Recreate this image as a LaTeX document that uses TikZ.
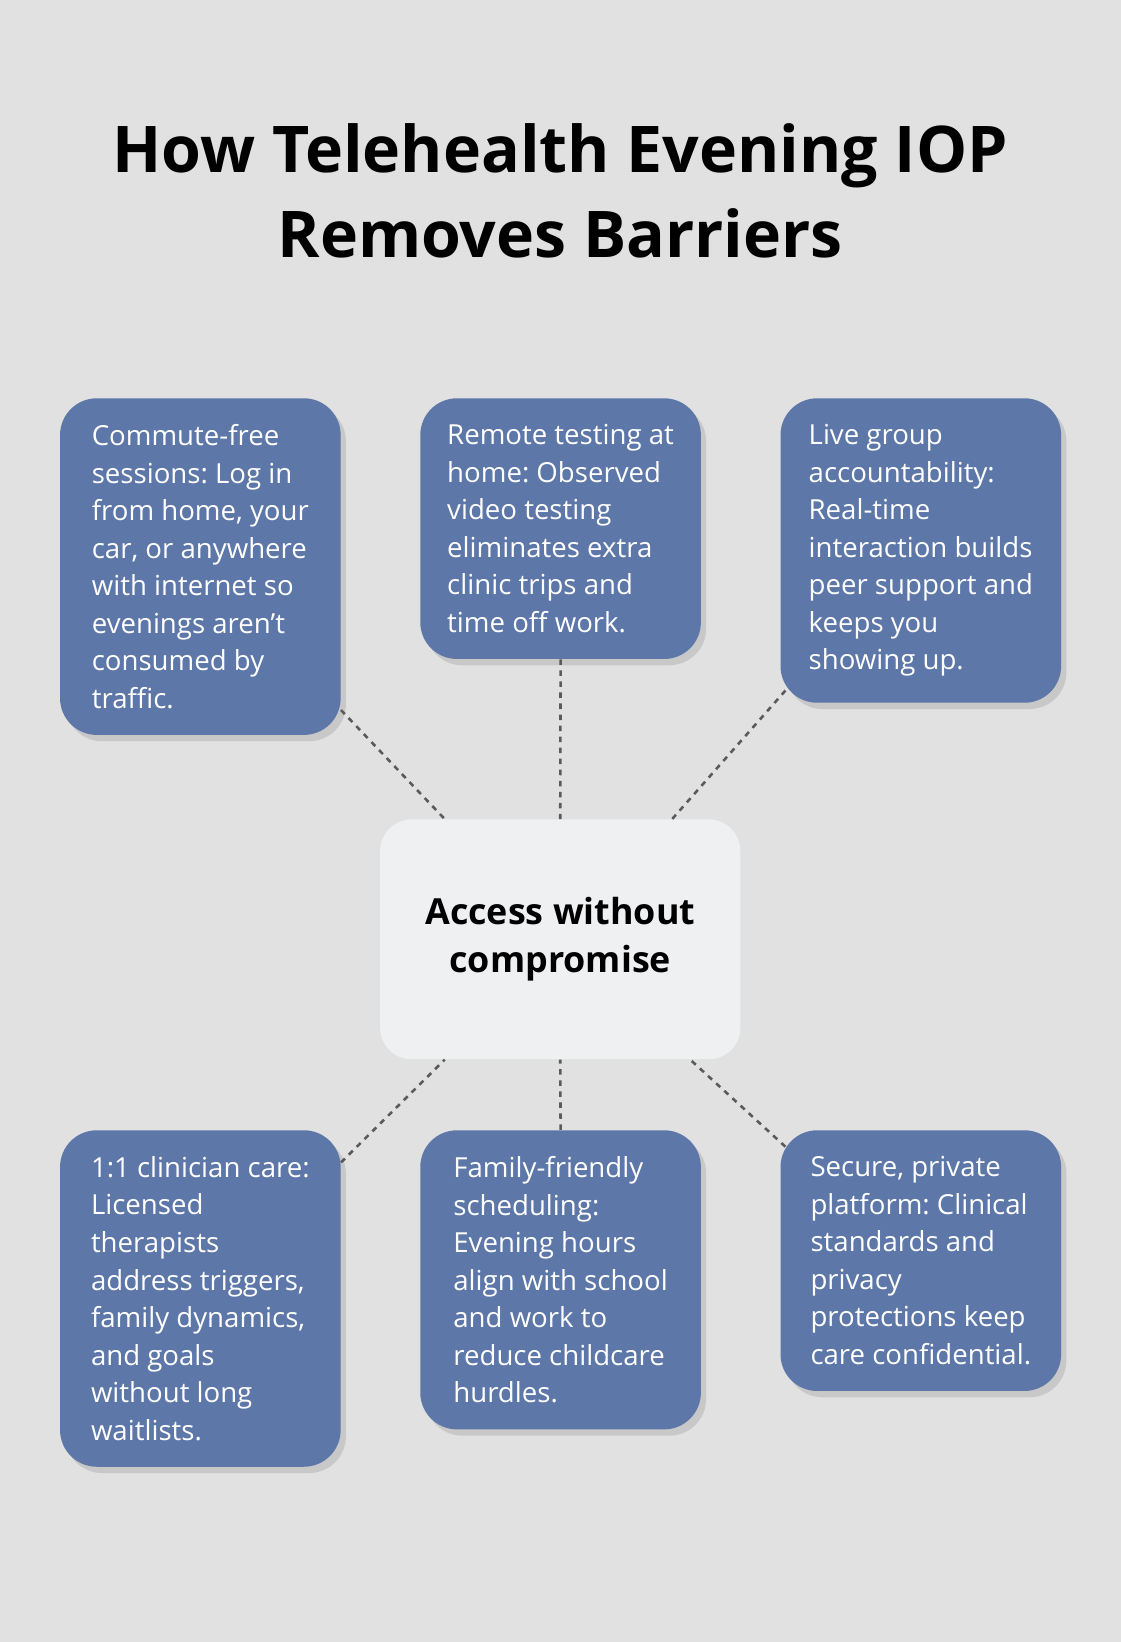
\documentclass[tikz,border=0pt]{standalone}
\usepackage{fontspec}
\setmainfont{Open Sans}
\usetikzlibrary{shadows,calc}
\frenchspacing
\definecolor{bgcol}{HTML}{E0E1E0}
\definecolor{tilecol}{HTML}{5D77A8}
\definecolor{hubcol}{HTML}{EFF0F2}
\definecolor{linkcol}{HTML}{5A5A5A}
\tikzset{
  tile/.style={anchor=north west,fill=tilecol,text=white,rounded corners=0.7cm,
    minimum width=5.36cm,inner xsep=0.46cm,inner ysep=0.5cm,align=left,
    font=\fontsize{15}{20.4}\selectfont,
    drop shadow={shadow xshift=0.1cm,shadow yshift=-0.12cm,opacity=0.25}},
  link/.style={draw=linkcol,line width=1.4pt,dash pattern=on 3pt off 3pt}
}
\begin{document}
\begin{tikzpicture}[x=0.02cm,y=-0.02cm]
    \fill[bgcol] (0,0) rectangle (1070,1568);
    \node[font=\fontsize{35}{46}\selectfont\bfseries,align=center] (title) at (535,182)
        {How Telehealth Evening IOP\\Removes Barriers};

    \node[fill=hubcol,rounded corners=0.6cm,minimum width=6.88cm,minimum height=4.58cm,
        align=center,font=\fontsize{19.5}{26}\selectfont\bfseries] (hub) at (535,897)
        {Access without\\compromise};

    \node[tile] (tl) at (57,380) {Commute-free\\sessions: Log in\\from home, your\\car, or anywhere\\with internet so\\evenings aren’t\\consumed by\\traffic.};
    \node[tile] (tm) at (401,380) {Remote testing at\\home: Observed\\video testing\\eliminates extra\\clinic trips and\\time off work.};
    \node[tile] (tr) at (745,380) {Live group\\accountability:\\Real-time\\interaction builds\\peer support and\\keeps you\\showing up.};
    \node[tile] (bl) at (57,1079) {1:1 clinician care:\\Licensed\\therapists\\address triggers,\\family dynamics,\\and goals\\without long\\waitlists.};
    \node[tile] (bm) at (401,1079) {Family-friendly\\scheduling:\\Evening hours\\align with school\\and work to\\reduce childcare\\hurdles.};
    \node[tile] (br) at (745,1079) {Secure, private\\platform: Clinical\\standards and\\privacy\\protections keep\\care confidential.};

    % dotted spokes
    \draw[link] ($(tl.east)+(0,137)$) -- ($(hub.north west)!0.18!(hub.north east)$);
    \draw[link] (tm.south) -- (hub.north);
    \draw[link] ($(tr.south west)+(5,-12)$) -- ($(hub.north west)!0.81!(hub.north east)$);
    \draw[link] ($(bl.north east)+(0,31)$) -- ($(hub.south west)!0.18!(hub.south east)$);
    \draw[link] (bm.north) -- (hub.south);
    \draw[link] ($(br.north west)+(5,16)$) -- ($(hub.south west)!0.86!(hub.south east)$);
\end{tikzpicture}
\end{document}
